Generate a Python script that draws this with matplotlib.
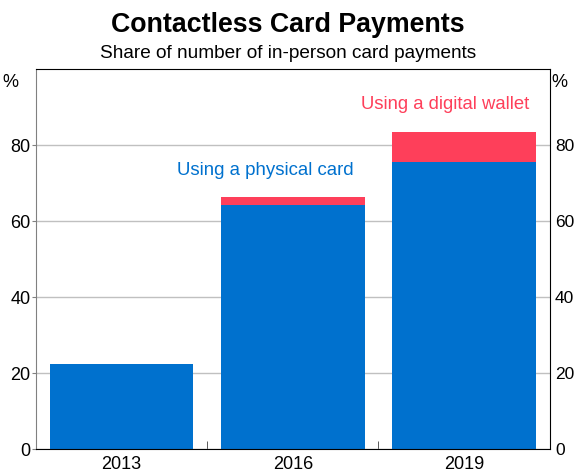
import matplotlib
matplotlib.use('Agg')
import matplotlib.pyplot as plt
import numpy as np

plt.rcParams['font.family'] = ['Liberation Sans', 'DejaVu Sans']

years = ['2013', '2016', '2019']
physical_card = [22.4, 64.2, 75.5]
digital_wallet = [0.0, 2.1, 7.9]
yticks = [0, 20, 40, 60, 80]

blue = '#0071CE'
red = '#FE3F5A'

fig = plt.figure(figsize=(5.76, 4.72), dpi=100)
ax = fig.add_axes([0.0625, 0.0487, 0.8915, 0.805])

x = np.arange(len(years))
ax.bar(x, physical_card, width=0.84, color=blue, zorder=2)
ax.bar(x, digital_wallet, width=0.84, bottom=physical_card, color=red, zorder=2)

ax.set_xlim(-0.5, len(years) - 0.5)
ax.set_ylim(0, 100)
ax.set_yticks(yticks)
ax.yaxis.grid(True, color='#c0c0c0', linewidth=1, zorder=0)

# year labels centred under bars, small inward ticks between them
ax.set_xticks(x)
ax.set_xticklabels(years, fontsize=13)
ax.tick_params(axis='x', length=0, pad=5)
ax.set_xticks(x[:-1] + 0.5, minor=True)
ax.tick_params(axis='x', which='minor', direction='in', length=6, color='#404040')

ax.tick_params(axis='y', labelsize=13, length=3, direction='out',
               left=True, right=False, labelleft=True, labelright=True,
               color='#808080', pad=1)
for t in ax.yaxis.get_major_ticks():
    t.label2.set_fontsize(12.5)

for side in ['top', 'right', 'bottom']:
    ax.spines[side].set_color('black')
ax.spines['left'].set_color('#808080')

ax.text(-0.035, 0.965, '%', transform=ax.transAxes, ha='right', va='center', fontsize=13)
ax.text(1.003, 0.965, '%', transform=ax.transAxes, ha='left', va='center', fontsize=13)

ax.text(0.84, 73.3, 'Using a physical card', color=blue, ha='center', va='center', fontsize=13.4)
ax.text(1.89, 90.7, 'Using a digital wallet', color=red, ha='center', va='center', fontsize=13.3)

fig.text(0.5, 0.947, 'Contactless Card Payments', ha='center', va='center',
         fontsize=19.3, fontweight='bold')
fig.text(0.5, 0.886, 'Share of number of in-person card payments', ha='center',
         va='center', fontsize=13.7)

plt.savefig('out.png', dpi=100)
